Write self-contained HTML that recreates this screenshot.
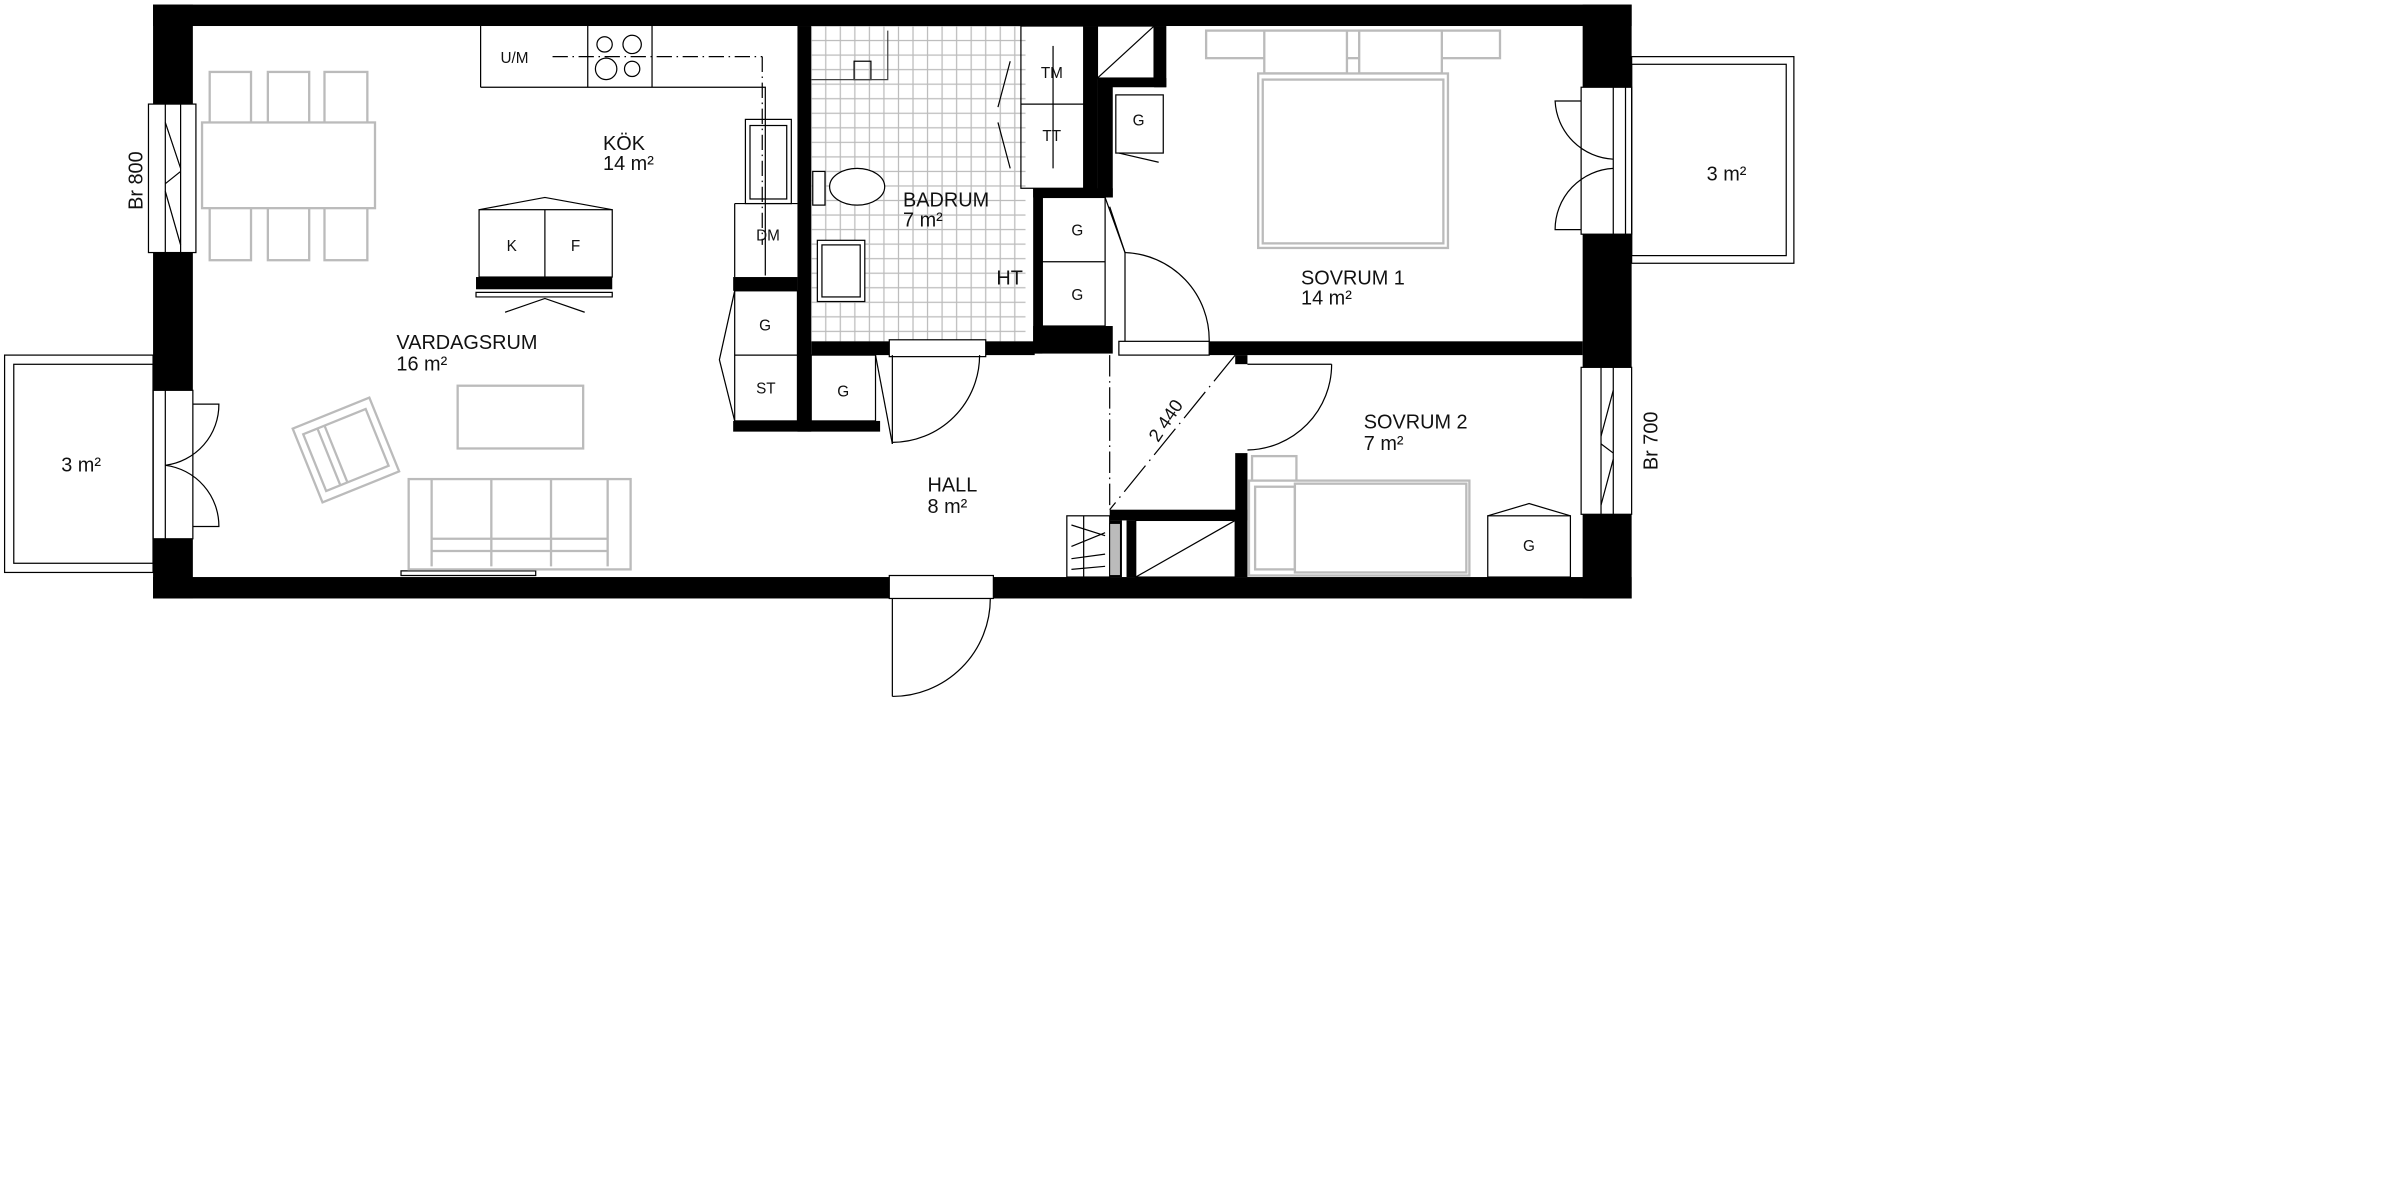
<!DOCTYPE html>
<html><head><meta charset="utf-8"><style>
html,body{margin:0;padding:0;background:#fff;width:2400px;height:1200px;overflow:hidden}
svg{display:block}
text{font-family:"Liberation Sans","DejaVu Sans",sans-serif;fill:#111}
</style></head><body>
<svg width="2400" height="1200" viewBox="0 0 1568 784" xmlns="http://www.w3.org/2000/svg">
<defs>
<pattern id="tile" x="530" y="17" width="9.5" height="9.5" patternUnits="userSpaceOnUse">
<rect width="9.5" height="9.5" fill="#fff" stroke="#bbb" stroke-width="0.8"/>
</pattern>
</defs>
<rect x="530" y="17" width="140" height="206" fill="url(#tile)"/>

<g fill="#000">
<rect x="100" y="3" width="966" height="14"/>
<rect x="100" y="3" width="26" height="388"/>
<rect x="100" y="377" width="966" height="14"/>
<rect x="1034" y="3" width="32" height="388"/>
<rect x="521" y="17" width="9" height="265"/>
<rect x="479" y="181" width="42" height="9"/>
<rect x="479" y="275" width="96" height="7"/>
<rect x="530" y="223" width="146" height="9"/>
<rect x="708" y="17" width="9" height="107"/>
<rect x="754" y="17" width="8" height="40"/>
<rect x="717" y="51" width="45" height="6"/>
<rect x="717" y="51" width="10" height="78"/>
<rect x="675" y="123" width="52" height="6"/>
<rect x="675" y="123" width="6" height="108"/>
<rect x="675" y="213" width="52" height="18"/>
<rect x="790" y="223" width="244" height="9"/>
<rect x="807" y="232" width="8" height="6"/>
<rect x="807" y="296" width="8" height="81"/>
<rect x="725" y="333" width="90" height="7"/>
<rect x="725" y="340" width="8" height="37"/>
<rect x="736" y="340" width="6" height="37"/>
<rect x="311" y="181" width="89" height="8"/>
</g>

<g fill="#fff" stroke="#000" stroke-width="0.8">
<rect x="97" y="68" width="31" height="97"/>
<rect x="100" y="255" width="26" height="97"/>
<rect x="1033" y="57" width="33" height="96"/>
<rect x="1033" y="240" width="33" height="96"/>
<rect x="581" y="376" width="68" height="15"/>
<rect x="581" y="222" width="63" height="11"/>
<rect x="731" y="223" width="59" height="9"/>
<rect x="807" y="238" width="8" height="58" stroke="none"/>
</g>
<g stroke="#000" stroke-width="0.8" fill="none">
<line x1="108" y1="68" x2="108" y2="165"/><line x1="118" y1="68" x2="118" y2="165"/>
<path d="M108 80 L118 110 M108 120 L118 112 M108 125 L118 160"/>
<line x1="108" y1="255" x2="108" y2="352"/>
<line x1="1054" y1="240" x2="1054" y2="336"/><line x1="1046" y1="240" x2="1046" y2="336"/>
<path d="M1054 255 L1046 285 M1054 296 L1046 290 M1054 300 L1046 330"/>
<line x1="1054" y1="57" x2="1054" y2="153"/><line x1="1062" y1="57" x2="1062" y2="153"/>
<rect x="3" y="232" width="97" height="142"/>
<rect x="9" y="238" width="91" height="130"/>
<rect x="1066" y="37" width="106" height="135"/>
<rect x="1066" y="42" width="101" height="125"/>
<path d="M126 264 L143 264 A40 40 0 0 1 108 304"/>
<path d="M126 344 L143 344 A40 40 0 0 0 108 304"/>
<path d="M1033 66 L1016 66 A40 40 0 0 0 1054 104"/>
<path d="M1033 150 L1016 150 A40 40 0 0 1 1054 110"/>
<line x1="583" y1="391" x2="583" y2="455"/>
<path d="M647 391 A64 64 0 0 1 583 455"/>
<line x1="583" y1="232" x2="583" y2="290"/>
<path d="M640 232 A57 57 0 0 1 583 289"/>
<line x1="572" y1="232" x2="583" y2="290"/>
<line x1="735" y1="223" x2="735" y2="165"/>
<path d="M790 223 A57 57 0 0 0 735 165"/>
<line x1="735" y1="165" x2="725" y2="135"/>
<line x1="815" y1="238" x2="870" y2="238"/>
<path d="M870 238 A56 56 0 0 1 815 294"/>
<line x1="725" y1="232" x2="725" y2="333" stroke-dasharray="14 3 1 3"/>
<line x1="807" y1="232" x2="725" y2="333" stroke-dasharray="22 4 1 4"/>
<rect x="742" y="340" width="65" height="37"/>
<line x1="742" y1="377" x2="807" y2="340"/>
<rect x="697" y="337" width="28" height="40"/>
<path d="M700 343 L722 350 M700 357 L722 348 M700 365 L722 362 M700 372 L722 370 M708 337 V377"/>
<rect x="717" y="17" width="37" height="34"/>
<line x1="717" y1="51" x2="754" y2="17"/>
<rect x="729" y="62" width="31" height="38"/>
<line x1="731" y1="100" x2="757" y2="106"/>
<rect x="681" y="129" width="41" height="84"/><line x1="681" y1="171" x2="722" y2="171"/>
<line x1="722" y1="129" x2="735" y2="165"/>
<rect x="667" y="17" width="41" height="106"/><line x1="667" y1="68" x2="708" y2="68"/>
<line x1="688" y1="30" x2="688" y2="110"/>
<path d="M660 40 L652 70 M652 80 L660 110"/>
<rect x="530" y="232" width="42" height="43"/>
<rect x="972" y="337" width="54" height="40"/>
<path d="M972 337 L999 329 L1026 337"/>
<path d="M314 57 L314 17 M314 57 L500 57 L500 180 M384 17 L384 57 M426 17 L426 57"/>
<rect x="487" y="78" width="30" height="55"/><rect x="490" y="82" width="24" height="48"/>
<line x1="480" y1="133" x2="521" y2="133"/>
<line x1="480" y1="133" x2="480" y2="181"/>
<path d="M361 37 L498 37 M498 37 L498 160" stroke-dasharray="10 3 1 3"/>
<circle cx="395" cy="29" r="5"/><circle cx="413" cy="29" r="6"/><circle cx="396" cy="45" r="7"/><circle cx="413" cy="45" r="5"/>
<rect x="313" y="137" width="87" height="44"/><line x1="356" y1="137" x2="356" y2="181"/>
<path d="M313 137 L356 129 L400 137"/>
<path d="M311 191 L400 191 L400 194 L311 194 Z M330 204 L356 195 L382 204"/>
<rect x="480" y="190" width="41" height="85"/><line x1="480" y1="232" x2="521" y2="232"/>
<path d="M480 190 L470 235 L480 275"/>
<path d="M262 373 L350 373 L350 376 L262 376 Z M282 367 L300 373 L318 367"/>
<rect x="558" y="40" width="11" height="12"/>
<path d="M530 52 L580 52 L580 20" stroke="#444"/>
<ellipse cx="560" cy="122" rx="18" ry="12" fill="#fff"/>
<rect x="531" y="112" width="8" height="22" fill="#fff"/>
<rect x="534" y="157" width="31" height="40" fill="#fff"/>
<rect x="537" y="160" width="25" height="34"/>
</g>
<rect x="725" y="342" width="7" height="34" fill="#bbb" stroke="#000" stroke-width="0.6"/>

<g stroke="#bbb" stroke-width="1.5" fill="#fff">
<rect x="137" y="47" width="27" height="123"/><rect x="175" y="47" width="27" height="123"/><rect x="212" y="47" width="28" height="123"/>
<rect x="132" y="80" width="113" height="56"/>
<rect x="299" y="252" width="82" height="41"/>
<rect x="267" y="313" width="145" height="59"/>
<path d="M282 313 V370 M321 313 V370 M360 313 V370 M397 313 V370 M282 352 H397 M282 360 H397" fill="none"/>
<g transform="rotate(-22 226 294)"><rect x="199" y="268" width="54" height="52"/><rect x="204" y="274" width="44" height="40"/><path d="M214 274 V314 M219 274 V314" fill="none"/></g>
<rect x="788" y="20" width="192" height="18"/>
<rect x="826" y="20" width="54" height="28"/><rect x="888" y="20" width="54" height="28"/>
<rect x="822" y="48" width="124" height="114"/><rect x="825" y="52" width="118" height="107"/>
<rect x="818" y="298" width="29" height="18"/>
<rect x="816" y="314" width="144" height="62"/><rect x="820" y="318" width="26" height="54"/><rect x="846" y="316" width="112" height="58"/>
</g>

<g font-size="13">
<text x="327" y="41" font-size="10">U/M</text>
<text x="494" y="157" font-size="10">DM</text>
<text x="331" y="164" font-size="10">K</text>
<text x="373" y="164" font-size="10">F</text>
<text x="496" y="216" font-size="10">G</text>
<text x="494" y="257" font-size="10">ST</text>
<text x="547" y="259" font-size="10">G</text>
<text x="680" y="51" font-size="10">TM</text>
<text x="681" y="92" font-size="10">TT</text>
<text x="740" y="82" font-size="10">G</text>
<text x="700" y="154" font-size="10">G</text>
<text x="700" y="196" font-size="10">G</text>
<text x="995" y="360" font-size="10">G</text>
<text x="394" y="98">KÖK</text><text x="394" y="111">14 m²</text>
<text x="259" y="228">VARDAGSRUM</text><text x="259" y="242">16 m²</text>
<text x="590" y="135">BADRUM</text><text x="590" y="148">7 m²</text>
<text x="651" y="186">HT</text>
<text x="850" y="186">SOVRUM 1</text><text x="850" y="199">14 m²</text>
<text x="891" y="280">SOVRUM 2</text><text x="891" y="294">7 m²</text>
<text x="606" y="321">HALL</text><text x="606" y="335">8 m²</text>
<text x="40" y="308">3 m²</text>
<text x="1115" y="118">3 m²</text>
<text transform="translate(93 118) rotate(-90)" text-anchor="middle">Br 800</text>
<text transform="translate(1083 288) rotate(-90)" text-anchor="middle">Br 700</text>
<text transform="translate(765 277) rotate(-56)" text-anchor="middle" font-size="12">2 440</text>
</g>
</svg>
</body></html>
